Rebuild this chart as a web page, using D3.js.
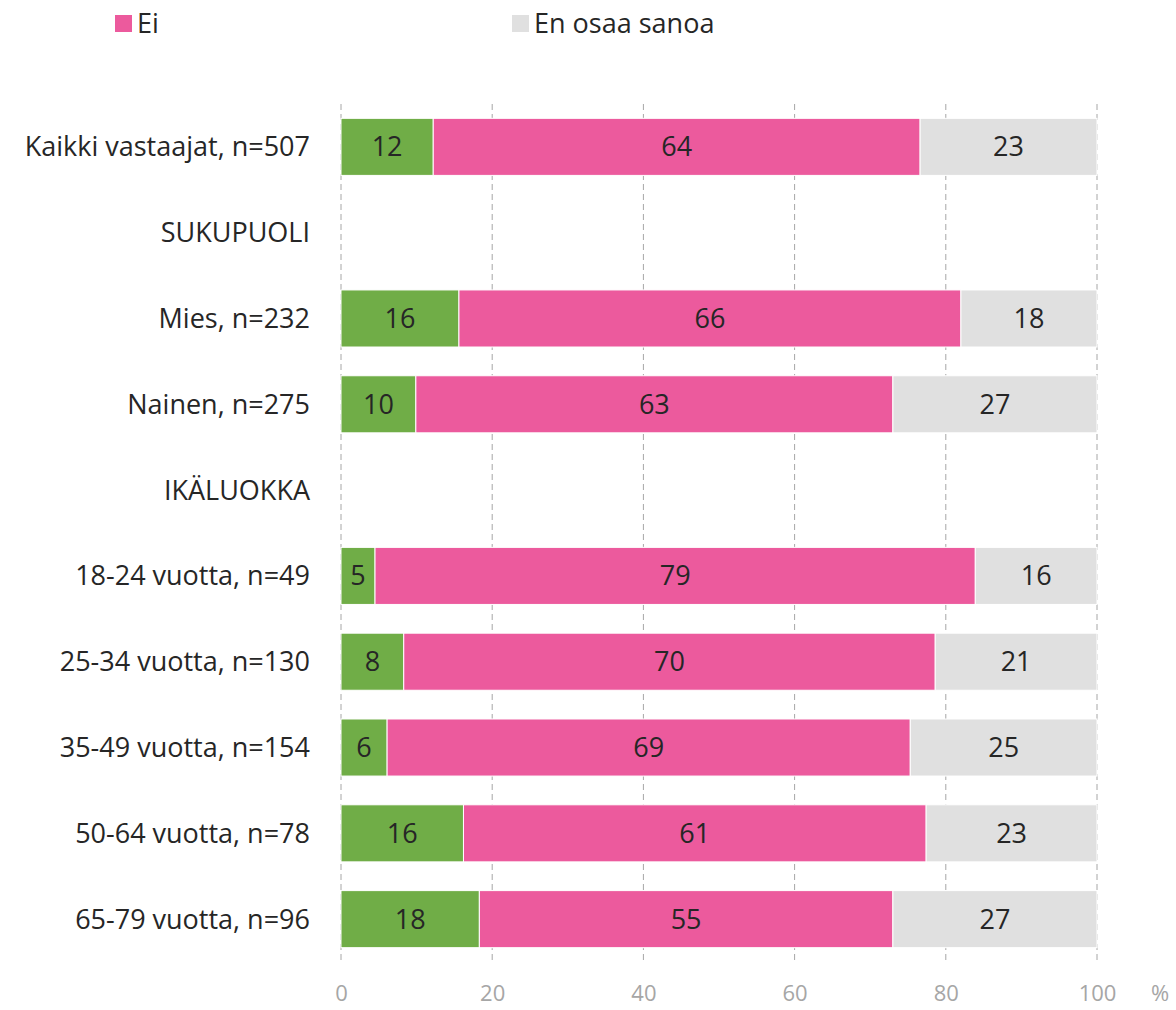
<!DOCTYPE html>
<html>
<head>
<meta charset="utf-8">
<script src="https://cdn.jsdelivr.net/npm/d3@7"></script>
<style>
  body { margin: 0; background: #fff; }
  text { font-family: "Open Sans", sans-serif; }
</style>
</head>
<body>
<svg id="chart" width="1176" height="1010"></svg>
<script>
// categories, top to bottom (header rows have no values)
const categories = ['Kaikki vastaajat, n=507', 'SUKUPUOLI', 'Mies, n=232', 'Nainen, n=275', 'IKÄLUOKKA',
    '18-24 vuotta, n=49', '25-34 vuotta, n=130', '35-49 vuotta, n=154', '50-64 vuotta, n=78', '65-79 vuotta, n=96'];
const kylla =  [12.2, null, 15.6, 9.9, null, 4.5, 8.3, 6.1, 16.2, 18.3];
const ei =     [64.4, null, 66.4, 63.1, null, 79.4, 70.3, 69.2, 61.2, 54.7];
const eos =    [23.4, null, 18.0, 27.0, null, 16.1, 21.4, 24.7, 22.6, 27.0];
const xTicks = [0, 20, 40, 60, 80, 100];

const series = [
    {key: 'Kyllä', values: kylla, color: '#70ad47', legend: false},
    {key: 'Ei', values: ei, color: '#ec5a9d', legend: true},
    {key: 'En osaa sanoa', values: eos, color: '#e0e0e0', legend: true}
];

const svg = d3.select('#chart');
const x = d3.scaleLinear().domain([0, 100]).range([341, 1097]);
const y = d3.scaleBand().domain(categories).range([104, 962]).paddingInner(0.335).paddingOuter(0.167);

// dashed gridlines
svg.append('g').selectAll('line').data(xTicks).join('line')
    .attr('x1', (d) => x(d)).attr('x2', (d) => x(d))
    .attr('y1', 104).attr('y2', 962)
    .attr('stroke', '#a6a6a6').attr('stroke-width', 1)
    .attr('stroke-dasharray', '6,4');

// build stacked rows
const rows = [];
categories.forEach((cat, i) => {
    let acc = 0;
    series.forEach((s) => {
        const v = s.values[i];
        if (v === null) return;
        rows.push({cat: cat, x0: acc, x1: acc + v, v: v, color: s.color});
        acc += v;
    });
});

const bars = svg.append('g');
bars.selectAll('rect').data(rows).join('rect')
    .attr('x', (d) => x(d.x0))
    .attr('width', (d) => x(d.x1) - x(d.x0))
    .attr('y', (d) => y(d.cat))
    .attr('height', y.bandwidth())
    .attr('fill', (d) => d.color)
    .attr('stroke', '#fff').attr('stroke-width', 1);

bars.selectAll('text').data(rows).join('text')
    .attr('x', (d) => (x(d.x0) + x(d.x1)) / 2)
    .attr('y', (d) => y(d.cat) + y.bandwidth() / 2)
    .attr('dy', '0.35em')
    .attr('text-anchor', 'middle')
    .attr('font-size', 27)
    .attr('fill', '#262626')
    .text((d) => Math.round(d.v));

// category labels
svg.append('g').selectAll('text').data(categories).join('text')
    .attr('x', 310)
    .attr('y', (d) => y(d) + y.bandwidth() / 2)
    .attr('dy', '0.35em')
    .attr('text-anchor', 'end')
    .attr('font-size', 27)
    .attr('fill', '#262626')
    .text((d) => d);

// x axis labels
const axis = svg.append('g').attr('transform', 'translate(0,993)')
    .call(d3.axisBottom(x).tickValues(xTicks).tickSize(0).tickPadding(0));
axis.select('.domain').remove();
axis.selectAll('text')
    .attr('font-family', '"Open Sans", sans-serif')
    .attr('font-size', 22)
    .attr('fill', '#a6a6a6')
    .attr('dy', '0.35em')
    .attr('y', 0);
svg.append('text').attr('x', 1160).attr('y', 993).attr('dy', '0.35em')
    .attr('text-anchor', 'middle').attr('font-size', 22).attr('fill', '#a6a6a6').text('%');

// legend
const legendPos = {'Ei': 115, 'En osaa sanoa': 512};
const legend = svg.append('g').selectAll('g').data(series.filter((s) => s.legend)).join('g')
    .attr('transform', (d) => 'translate(' + legendPos[d.key] + ',15)');
legend.append('rect').attr('width', 17).attr('height', 17).attr('fill', (d) => d.color);
legend.append('text').attr('x', 22).attr('y', 9).attr('dy', '0.35em')
    .attr('font-size', 27).attr('fill', '#262626').text((d) => d.key);
</script>
</body>
</html>
